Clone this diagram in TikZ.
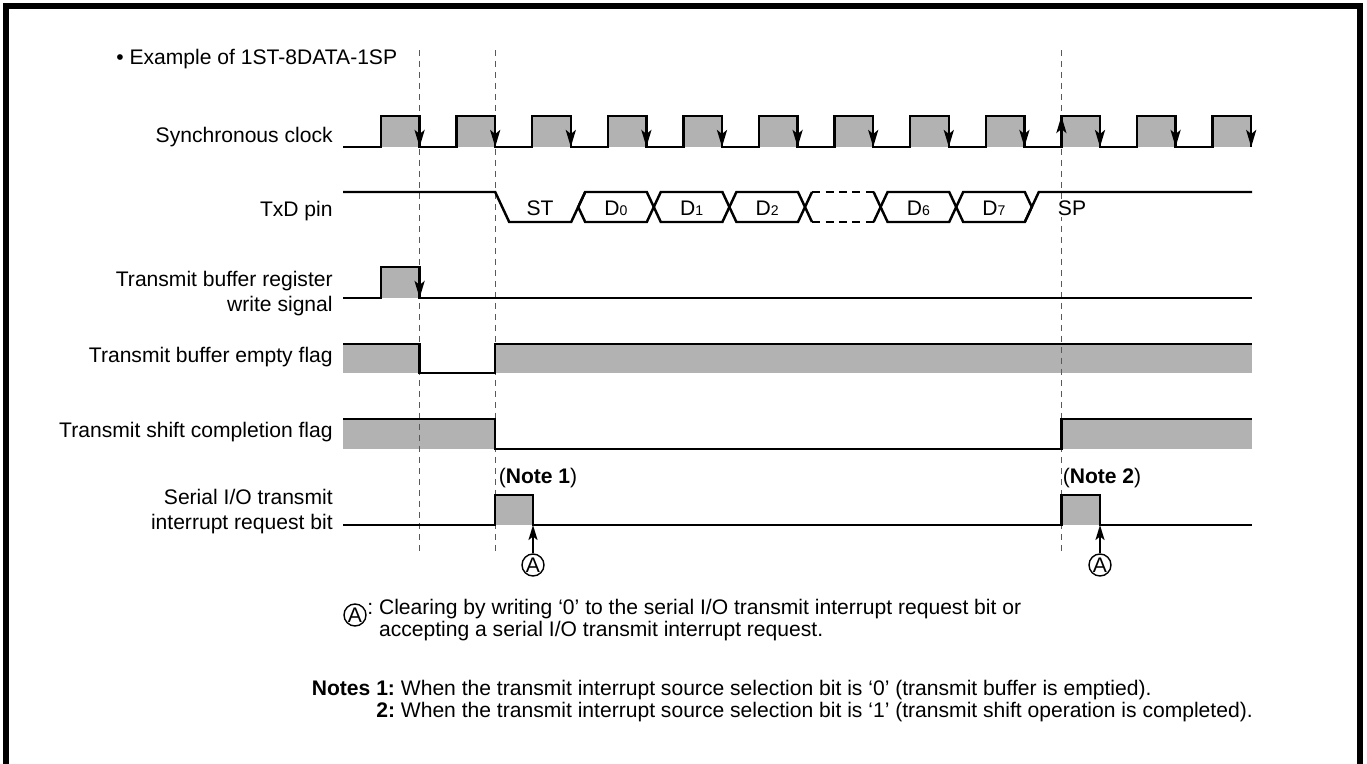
\documentclass[tikz,border=0pt]{standalone}
\usepackage{fontspec}
\setmainfont{Liberation Sans}
\usetikzlibrary{arrows.meta, positioning, calc}

\tikzset{
  sig/.style={line width=1.4pt, line join=miter},
  hi/.style={fill=black!30},
  edgearr/.style={line width=1.4pt, -{Stealth[length=0.34cm, width=0.2cm, inset=0.08cm]}},
  clrarr/.style={line width=1.2pt, -{Stealth[length=0.3cm, width=0.18cm, inset=0.07cm]}},
  guide/.style={black!65, line width=0.6pt, dash pattern=on 0.12cm off 0.1cm},
  gap/.style={line width=1.4pt, dash pattern=on 0.16cm off 0.11cm},
  lbl/.style={anchor=east, align=right, inner sep=0pt, font=\fontsize{12}{14.2}\selectfont},
  txt/.style={inner sep=0pt, font=\fontsize{12}{12.8}\selectfont},
  clr/.style={circle, draw, line width=0.8pt, minimum size=0.44cm, inner sep=0pt, font=\fontsize{12}{13}\selectfont},
  panel/.style={line width=3.4pt}
}
\newcommand{\dbit}[1]{D{\footnotesize #1}}

\begin{document}
\begin{tikzpicture}[x=0.02cm, y=-0.02cm]
  \useasboundingbox (0,0) rectangle (1367,764);
  % Frame
  \draw[panel] (6.2,790) -- (6.2,6.2) -- (1360,6.2) -- (1360,790);
  \node[txt, anchor=west] (title) at (116,59) {\textbullet\ Example of 1ST-8DATA-1SP};

  % Fills
  \foreach \k in {0,...,11}
    \fill[hi] ({381+75.6*\k},116) rectangle ++(38.6,31);
  \fill[hi] (381,267) rectangle (419.6,298);
  \fill[hi] (343,344) rectangle (419.6,373);
  \fill[hi] (495.2,344) rectangle (1252,373);
  \fill[hi] (343,419) rectangle (495.2,449);
  \fill[hi] (1061.4,419) rectangle (1252,449);
  \fill[hi] (495.2,495) rectangle (533,525);
  \fill[hi] (1061.4,495) rectangle (1100,525);

  % Guide lines
  \foreach \x in {419.6, 495.2, 1061.4}
    \draw[guide] (\x,50) -- (\x,555);

  % Synchronous clock
  \node[lbl] (lclk) at (333,137) {Synchronous clock};
  \draw[sig] (343,147) \foreach \k in {0,...,11}{
    -- ({381+75.6*\k},147) -- ++(0,-31) -- ++(38.6,0) -- ++(0,31)};
  \foreach \k in {0,...,11}
    \draw[edgearr] ({419.6+75.6*\k},116) -- ++(0,31);
  \draw[edgearr] (1061.4,147) -- ++(0,-31);

  % TxD pin
  \node[lbl] (ltxd) at (333,211) {TxD pin};
  \draw[sig] (343,192) -- (495.2,192) -- (509.2,222) -- (571.2,222) -- (585.2,192);
  \node[txt] (st) at (540,208) {ST};
  \foreach \j/\b in {0/0, 1/1, 2/2, 4/6, 5/7} {
    \draw[sig] ({578.2+75.6*\j},207) -- ++(7,-15) -- ++(61.6,0) -- ++(7,15)
      -- ++(-7,15) -- ++(-61.6,0) -- cycle;
    \node[txt] (d\b) at ({616+75.6*\j},208) {\dbit{\b}};
  }
  \draw[sig] (812,192) -- (805,207) -- (812,222);
  \draw[sig] (873.6,192) -- (880.6,207) -- (873.6,222);
  \draw[gap] (812,192) -- (873.6,192) (812,222) -- (873.6,222);
  \draw[sig] (1024.8,222) -- (1038.8,192) -- (1252,192);
  \node[txt, fill=white, inner sep=1pt] (sp) at (1072,208) {SP};

  % Transmit buffer register write signal
  \node[lbl] (lwr) at (333,294) {Transmit buffer register\\write signal};
  \draw[sig] (343,298) -- (381,298) -- (381,267) -- (419.6,267) -- (419.6,298) -- (1252,298);
  \draw[edgearr] (419.6,267) -- ++(0,31);

  % Transmit buffer empty flag
  \node[lbl] (lemp) at (333,357) {Transmit buffer empty flag};
  \draw[sig] (343,344) -- (419.6,344) -- (419.6,373) -- (495.2,373) -- (495.2,344) -- (1252,344);

  % Transmit shift completion flag
  \node[lbl] (lsft) at (333,432) {Transmit shift completion flag};
  \draw[sig] (343,419) -- (495.2,419) -- (495.2,449) -- (1061.4,449) -- (1061.4,419) -- (1252,419);

  % Serial I/O transmit interrupt request bit
  \node[lbl] (lirq) at (333,512) {Serial I/O transmit\\interrupt request bit};
  \draw[sig] (343,525) -- (495.2,525) -- (495.2,495) -- (533,495) -- (533,525)
    -- (1061.4,525) -- (1061.4,495) -- (1100,495) -- (1100,525) -- (1252,525);
  \node[txt] (n1) at (538,478) {(\textbf{Note 1})};
  \node[txt] (n2) at (1102,478) {(\textbf{Note 2})};
  \node[clr] (a1) at (533,565) {A};
  \node[clr] (a2) at (1100,565) {A};
  \coordinate (e1) at (533,525);
  \coordinate (e2) at (1100,525);
  \draw[clrarr] (a1) -- (e1);
  \draw[clrarr] (a2) -- (e2);

  % Key and notes
  \node[clr] (ka) at (355,615) {A};
  \node[txt, anchor=west] (key) at (367,621) {\begin{tabular}{@{}l@{\ }l@{}}
    :&Clearing by writing `0' to the serial I/O transmit interrupt request bit or\\
    &accepting a serial I/O transmit interrupt request.\end{tabular}};
  \node[txt, anchor=west] (notes) at (311.5,702) {\begin{tabular}{@{}r@{\ }l@{}}
    \textbf{Notes 1:}&When the transmit interrupt source selection bit is `0' (transmit buffer is emptied).\\
    \textbf{2:}&When the transmit interrupt source selection bit is `1' (transmit shift operation is completed).\end{tabular}};
\end{tikzpicture}
\end{document}
